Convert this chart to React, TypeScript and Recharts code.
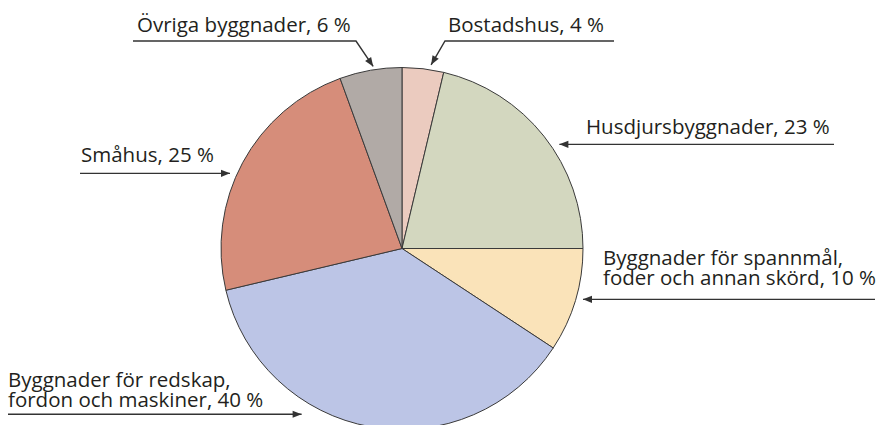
import React from "react";
import { PieChart, Pie, Cell } from "recharts";

// Slice names ("\n" = line break in the label) and their shares in percent
const CATEGORIES = [
  "Bostadshus",
  "Husdjursbyggnader",
  "Byggnader för spannmål,\nfoder och annan skörd",
  "Byggnader för redskap,\nfordon och maskiner",
  "Småhus",
  "Övriga byggnader",
];
const SHARES = [4, 23, 10, 40, 25, 6];
const COLORS = ["#EBCBBF", "#D3D7BF", "#FAE3B9", "#BCC5E6", "#D68D7A", "#B1AAA6"];

interface Slice {
  name: string;
  value: number;
}

const chartData: Slice[] = CATEGORIES.map((name, i) => ({ name, value: SHARES[i] }));

// Where each annotation goes: arrow tip (angle clockwise from 12 o'clock, distance
// from centre), then either a horizontal leader to `lineTo` or an elbow via `elbow`.
interface Annotation {
  tipAngle: number;
  tipR: number;
  lineTo?: number;
  elbow?: [number, number];
  lineEnd?: number;
  textX: number;
  textY: number;
}

const ANNOTATIONS: Annotation[] = [
  { tipAngle: 9, tipR: 186, elbow: [445, 41], lineEnd: 614, textX: 448, textY: 31.5 },
  { tipAngle: 56.5, tipR: 188.7, lineTo: 834, textX: 586, textY: 134 },
  { tipAngle: 105.7, tipR: 188, lineTo: 875, textX: 603, textY: 264.5 },
  { tipAngle: 211.2, tipR: 193.8, lineTo: 8, textX: 8, textY: 386.5 },
  { tipAngle: 293.6, tipR: 187.7, lineTo: 80, textX: 81, textY: 162 },
  { tipAngle: 351, tipR: 184.3, elbow: [356, 41], lineEnd: 133, textX: 137, textY: 32 },
];

const FONT = "'Open Sans', 'Noto Sans', sans-serif";
const INK = "#231F20";
const LINE = "#333333";

function arrowHead(tx: number, ty: number, fx: number, fy: number) {
  const len = Math.hypot(tx - fx, ty - fy) || 1;
  const ux = (tx - fx) / len;
  const uy = (ty - fy) / len;
  const L = 9;
  const W = 3.6;
  const bx = tx - ux * L;
  const by = ty - uy * L;
  return `${tx},${ty} ${bx - uy * W},${by + ux * W} ${bx + uy * W},${by - ux * W}`;
}

const renderLabel = (props: any) => {
  const { cx, cy, index } = props;
  const a = ANNOTATIONS[index];
  const rad = (a.tipAngle * Math.PI) / 180;
  const tx = cx + a.tipR * Math.sin(rad);
  const ty = cy - a.tipR * Math.cos(rad);
  const lines = `${CATEGORIES[index]}, ${SHARES[index]} %`.split("\n");

  let path: string;
  let head: string;
  if (a.elbow) {
    const [ex, ey] = a.elbow;
    path = `M${a.lineEnd},${ey} L${ex},${ey} L${tx},${ty}`;
    head = arrowHead(tx, ty, ex, ey);
  } else {
    path = `M${a.lineTo},${ty} L${tx},${ty}`;
    head = arrowHead(tx, ty, a.lineTo as number, ty);
  }

  return (
    <g key={`ann-${index}`}>
      <path d={path} fill="none" stroke={LINE} strokeWidth={1.4} />
      <polygon points={head} fill={LINE} />
      <text x={a.textX} y={a.textY} fontFamily={FONT} fontSize={20.5} fill={INK}>
        {lines.map((line, i) => (
          <tspan key={i} x={a.textX} dy={i === 0 ? 0 : 20}>
            {line}
          </tspan>
        ))}
      </text>
    </g>
  );
};

export default function App(): React.ReactElement {
  return (
    <div style={{ position: "absolute", left: 0, top: 0, background: "#fff" }}>
      <PieChart width={878} height={425} margin={{ top: 0, right: 0, bottom: 0, left: 0 }}>
        <Pie
          data={chartData}
          dataKey="value"
          nameKey="name"
          cx={402}
          cy={248.5}
          outerRadius={181}
          startAngle={90}
          endAngle={-270}
          stroke="#3A3A3A"
          strokeWidth={1}
          label={renderLabel}
          labelLine={false}
          isAnimationActive={false}
        >
          {chartData.map((d, i) => (
            <Cell key={d.name} fill={COLORS[i]} />
          ))}
        </Pie>
      </PieChart>
    </div>
  );
}
